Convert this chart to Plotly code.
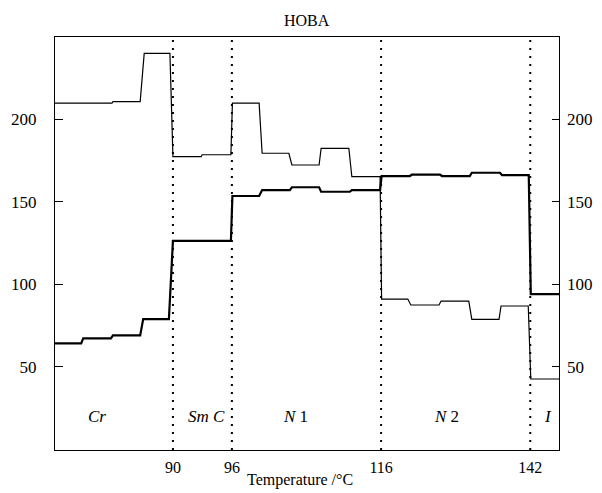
import plotly.graph_objects as go

# Scan position (0-100 % of the recorded run) where each phase transition occurs
transition_pos = [23.4, 35.1, 64.7, 94.3]
transition_temp = ["90", "96", "116", "142"]

# Phase labels and their positions along the scan
phase_names = ["<i>Cr</i>", "<i>Sm C</i>", "<i>N</i> 1", "<i>N</i> 2", "<i>I</i>"]
phase_label_pos = [8.3, 30.1, 47.8, 77.7, 97.8]
phase_label_y = 19.7

# Thin trace (upper curve at start)
thin_x = [0, 11.3, 11.5, 16.9, 17.7, 22.8, 23.4, 29.0, 29.2, 34.9, 35.2, 40.5,
          41.1, 46.4, 47.0, 52.4, 52.8, 58.3, 58.9, 64.5, 64.8, 70.0, 70.6, 76.2,
          76.6, 82.1, 82.7, 88.1, 88.5, 93.9, 94.4, 100]
thin_y = [209.6, 209.6, 210.6, 210.6, 239.8, 239.8, 177.2, 177.2, 178.4, 178.4,
          209.6, 209.6, 179.3, 179.3, 172.2, 172.2, 182.3, 182.3, 165.1, 165.1,
          91.0, 91.0, 87.4, 87.4, 89.8, 89.8, 78.7, 78.7, 86.8, 86.8, 42.6, 42.6]

# Thick trace (lower curve at start)
thick_x = [0, 5.2, 5.6, 11.1, 11.5, 16.9, 17.5, 22.6, 23.4, 34.9, 35.2, 40.5,
           41.1, 46.6, 47.0, 52.4, 52.8, 58.5, 58.9, 64.5, 64.8, 70.4, 70.8, 76.4,
           76.8, 82.3, 82.7, 88.3, 88.7, 94.0, 94.4, 100]
thick_y = [64.2, 64.2, 67.2, 67.2, 69.0, 69.0, 78.9, 78.9, 126.2, 126.2, 153.4,
           153.4, 157.0, 157.0, 158.7, 158.7, 156.0, 156.0, 157.0, 157.0, 165.5,
           165.5, 166.3, 166.3, 165.5, 165.5, 167.5, 167.5, 166.0, 166.0, 94.0, 94.0]

y_ticks = [50, 100, 150, 200]
y_range = [-0.4, 249.7]

FONT = "Liberation Serif"

fig = go.Figure()

# dotted transition lines
dx, dy = [], []
for p in transition_pos:
    dx += [p, p, None]
    dy += [y_range[0], y_range[1], None]
fig.add_trace(go.Scatter(x=dx, y=dy, mode="lines",
                         line=dict(color="black", width=2, dash="2px,6px"),
                         hoverinfo="skip", showlegend=False))

fig.add_trace(go.Scatter(x=thin_x, y=thin_y, mode="lines",
                         line=dict(color="black", width=1.2),
                         showlegend=False))
fig.add_trace(go.Scatter(x=thick_x, y=thick_y, mode="lines",
                         line=dict(color="black", width=2.2),
                         showlegend=False))
# dummy trace for right axis
fig.add_trace(go.Scatter(x=[None], y=[None], yaxis="y2", showlegend=False))

for name, pos in zip(phase_names, phase_label_pos):
    fig.add_annotation(x=pos, y=phase_label_y, text=name, showarrow=False,
                       font=dict(family=FONT, size=17, color="black"))

fig.add_annotation(x=0.5, y=1, xref="paper", yref="paper", yshift=17,
                   yanchor="middle",
                   text="HOBA", showarrow=False,
                   font=dict(family=FONT, size=16, color="black"))

fig.add_annotation(x=0.486, y=0, xref="paper", yref="paper", yshift=-30,
                   yanchor="middle",
                   text="Temperature /°C", showarrow=False,
                   font=dict(family=FONT, size=16, color="black"))

fig.update_layout(
    width=594, height=485,
    margin=dict(l=47, r=43, t=29, b=43),
    paper_bgcolor="white", plot_bgcolor="white",
    font=dict(family=FONT, size=15, color="black"),
    xaxis=dict(range=[0, 100], tickvals=transition_pos, ticktext=transition_temp,
               ticks="", showgrid=False, zeroline=False, automargin=False,
               showline=True, linecolor="black", linewidth=1, mirror=True,
               tickfont=dict(size=16), ticklabelstandoff=3),
    yaxis=dict(range=y_range, tickvals=y_ticks, ticks="inside", ticklen=8,
               tickcolor="black", showgrid=False, zeroline=False,
               automargin=False,
               showline=True, linecolor="black", linewidth=1, mirror=True,
               tickfont=dict(size=17), ticklabelstandoff=14),
    yaxis2=dict(range=y_range, tickvals=y_ticks, ticks="inside", ticklen=7,
                tickcolor="black", overlaying="y", side="right",
                showgrid=False, zeroline=False, showline=False,
                automargin=False, ticklabeloverflow="allow",
                tickfont=dict(size=17), ticklabelstandoff=7),
)

fig.write_html("out.html")
